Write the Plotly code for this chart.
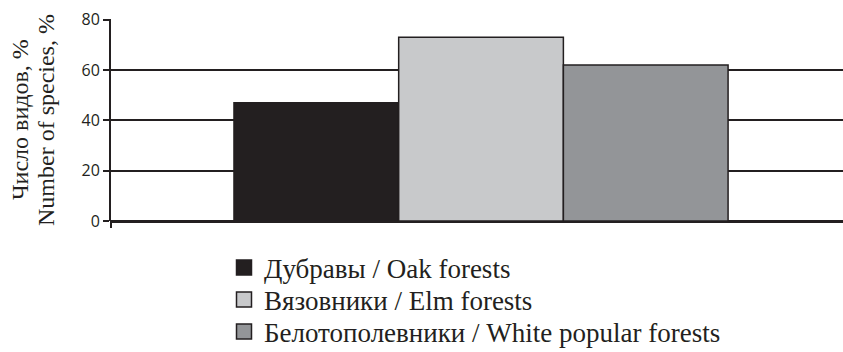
import plotly.graph_objects as go

# Share of species by forest type, %
series_names = [
    "Дубравы / Oak forests",
    "Вязовники / Elm forests",
    "Белотополевники / White popular forests",
]
series_values = [47, 73, 62]
series_colors = ["#231f20", "#c8c9cb", "#939598"]
category = [""]
y_ticks = [0, 20, 40, 60, 80]
y_title_ru = "Число видов, %"
y_title_en = "Number of species, %"

ink = "#231f20"
W, H = 843, 352
L, R, T, B = 111, 0, 19, 131
plot_w = W - L - R
plot_h = H - T - B

fig = go.Figure()
legend_ids = ["legend", "legend2", "legend3"]
for i, (name, val, col) in enumerate(zip(series_names, series_values, series_colors)):
    fig.add_trace(go.Bar(
        x=category, y=[val], name=name, showlegend=False,
        marker=dict(color=col, line=dict(color=ink, width=1.5)),
    ))
    # legend swatch: an empty square-marker trace in its own legend box
    fig.add_trace(go.Scatter(
        x=[None], y=[None], mode="markers", name=name, legend=legend_ids[i],
        marker=dict(symbol="square", size=15, color=col, line=dict(color=ink, width=1.5)),
        showlegend=True,
    ))

legend_rows = [268, 300, 332]
legend_style = dict(
    orientation="v", xref="container", yref="container",
    x=224 / W, xanchor="left", yanchor="middle",
    font=dict(family="Liberation Serif", size=27, color=ink),
    bgcolor="rgba(0,0,0,0)", itemsizing="trace",
)
legends = {}
for lid, row in zip(legend_ids, legend_rows):
    legends[lid] = dict(legend_style, y=1 - row / H)

# short downward stub of the vertical axis below zero
fig.add_shape(type="line", xref="paper", yref="paper", x0=0, x1=0, y0=0, y1=-7 / plot_h,
              line=dict(color=ink, width=2))

# rotated two-line axis title
for text, px in [(y_title_ru, 20), (y_title_en, 46)]:
    fig.add_annotation(
        text=text, textangle=-90, showarrow=False,
        xref="paper", yref="paper", x=(px - L) / plot_w, y=0.5,
        xanchor="center", yanchor="middle",
        font=dict(family="Liberation Serif", size=24, color=ink),
    )

fig.update_layout(
    width=W, height=H,
    margin=dict(l=L, r=R, t=T, b=B, autoexpand=False),
    paper_bgcolor="white", plot_bgcolor="white",
    barmode="group", bargap=0.325, bargroupgap=0,
    showlegend=True,
    **legends,
    xaxis=dict(showticklabels=False, showgrid=False, zeroline=False, showline=False,
               ticks="", range=[-0.5055, 0.4945]),
    yaxis=dict(
        range=[0, 80.3], tickvals=y_ticks,
        showgrid=True, gridcolor=ink, gridwidth=2,
        zeroline=True, zerolinecolor=ink, zerolinewidth=2.5,
        showline=True, linecolor=ink, linewidth=2,
        ticks="outside", ticklen=6, tickwidth=2, tickcolor=ink,
        tickfont=dict(family="Open Sans", size=16, color=ink),
    ),
)

fig.write_html("out.html")
